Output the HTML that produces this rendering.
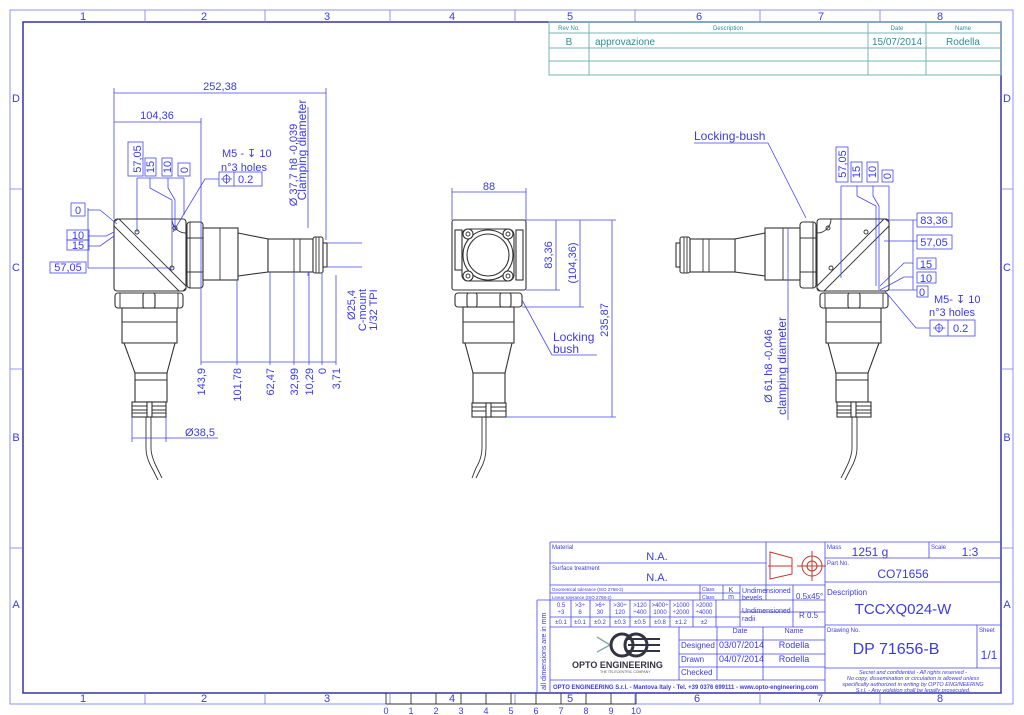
<!DOCTYPE html>
<html><head><meta charset="utf-8"><style>
html,body{margin:0;padding:0;background:#fff}
svg{display:block}
text{font-family:"Liberation Sans",sans-serif;fill:#3a3ae8}
.b{stroke:#4646f0;stroke-width:0.8;fill:none}
.f{stroke:#7777f5;stroke-width:0.8;fill:none}
.m{stroke:#333;stroke-width:1.1;fill:#fff}
.ml{stroke:#333;stroke-width:0.9;fill:none}
.t{stroke:#77b5b5;stroke-width:1;fill:none}
.tt{fill:#2f8f8f}
</style></head><body>
<svg width="1024" height="715" viewBox="0 0 1024 715" xmlns="http://www.w3.org/2000/svg">
<!-- frame -->
<rect x="10" y="10" width="1003" height="694" class="f"/>
<rect x="23" y="22" width="978" height="671" style="stroke:#3333aa;stroke-width:1.5;fill:none"/>
<g class="f">
<path d="M145 10V22M265 10V22M390 10V22M515 10V22M635 10V22M760 10V22M880 10V22"/>
<path d="M145 693V704M265 693V704M390 693V704M515 693V704M635 693V704M760 693V704M880 693V704"/>
<path d="M10 189H23M10 369H23M10 548H23M1001 189H1013M1001 369H1013M1001 548H1013"/>
</g>
<g font-size="11" text-anchor="middle">
<text x="83" y="20">1</text><text x="204" y="20">2</text><text x="327" y="20">3</text><text x="452" y="20">4</text><text x="570" y="20">5</text><text x="699" y="20">6</text><text x="821" y="20">7</text><text x="940" y="20">8</text>
<text x="83" y="702">1</text><text x="204" y="702">2</text><text x="327" y="702">3</text><text x="452" y="702">4</text><text x="570" y="702">5</text><text x="697" y="702">6</text><text x="820" y="702">7</text><text x="940" y="702">8</text>
<text x="16" y="102">D</text><text x="16" y="271">C</text><text x="16" y="441">B</text><text x="16" y="608">A</text>
<text x="1007" y="102">D</text><text x="1007" y="271">C</text><text x="1007" y="441">B</text><text x="1007" y="608">A</text>
</g>
<!-- scale ruler -->
<g class="ml"><path d="M386 704H636M386 693V704M411 693V704M436 693V704M461 693V704M486 693V704M511 693V704M536 693V704M561 693V704M586 693V704M611 693V704M636 693V704"/></g>
<g font-size="9" text-anchor="middle"><text x="386" y="714">0</text><text x="411" y="714">1</text><text x="436" y="714">2</text><text x="461" y="714">3</text><text x="486" y="714">4</text><text x="511" y="714">5</text><text x="536" y="714">6</text><text x="561" y="714">7</text><text x="586" y="714">8</text><text x="611" y="714">9</text><text x="636" y="714">10</text></g>

<!-- revision table -->
<g class="t"><rect x="549" y="22" width="452" height="53"/><path d="M549 33H1001M549 48H1001M549 61H1001M589 22V75M868 22V75M926 22V75"/></g>
<g text-anchor="middle" font-size="6"><text class="tt" x="569" y="30">Rev No.</text><text class="tt" x="728" y="30">Description</text><text class="tt" x="897" y="30">Date</text><text class="tt" x="963" y="30">Name</text></g>
<g font-size="10"><text class="tt" x="569" y="45" text-anchor="middle">B</text><text class="tt" x="595" y="45">approvazione</text><text class="tt" x="897" y="45" text-anchor="middle">15/07/2014</text><text class="tt" x="963" y="45" text-anchor="middle">Rodella</text></g>

<defs>
<g id="part">
 <rect x="114" y="219" width="72" height="72" rx="3" class="m"/>
 <path class="ml" d="M119 219L186 286M114 226L179 291M114 222L118 219M183 291L186 288"/>
 <circle cx="137" cy="232" r="2" class="ml"/><circle cx="175" cy="228" r="2" class="ml"/><circle cx="172" cy="268" r="2" class="ml"/>
 <path class="ml" d="M172 219A14 14 0 0 0 186 233"/>
 <rect x="187" y="222" width="16" height="66" rx="3" class="m"/>
 <path class="ml" d="M187 238H203M187 272H203M190 222V288"/>
 <rect x="203" y="228" width="35" height="52" class="m"/><path class="ml" d="M220 228V280"/>
 <path class="m" d="M238 233L268 239V272L238 276Z"/>
 <rect x="268" y="239" width="45" height="33" class="m"/><path class="ml" d="M294 239V272M300 239V272"/>
 <rect x="313" y="237" width="10" height="36" rx="2" class="m"/><path class="ml" d="M316 237V273M319 237V273"/>
 <rect x="323" y="243" width="4" height="24" class="m"/>
 <rect x="115" y="293" width="68" height="15" rx="3" class="m"/>
 <rect x="143" y="293" width="12" height="15" rx="2" class="m"/>
 <path class="ml" d="M120 293V308M178 293V308"/>
 <rect x="122" y="308" width="55" height="35" class="m"/><path class="ml" d="M122 322H177"/>
 <path class="m" d="M124 343H175L167 373H135Z"/>
 <rect x="135" y="373" width="32" height="29" class="m"/><path class="ml" d="M135 380H167"/>
 <rect x="132" y="402" width="34" height="15" class="m"/>
 <path class="ml" d="M132 406H166M132 410H166M132 413H166"/><rect x="147" y="402" width="5" height="15" class="m"/>
 <path class="ml" d="M146 417V448Q146 458 153 470L158 480M151 417V448Q151 456 157 468L162 478"/>
</g>
</defs>
<use href="#part"/>
<use href="#part" transform="translate(1003,0) scale(-1,1)"/>

<!-- left view dims -->
<g class="b">
 <path d="M114 88V219M326 88V240M201 118V365M114 93H326M114 122H201"/>
 <path d="M237 280V365M270 272V365M294 272V365M309 272V365M322 272V365M336 275V365M201 362H336M327 243H362M327 267H362"/>
 <path d="M308 107V228M308 272V276"/>
 <path d="M132 417V442M166 417V442M132 438H218"/>
 <path d="M137 178H184M137 178V232M150 178V188L172 200V268M168 178V188L175 200V228M184 178V215"/>
 <path d="M219 179H205L173 232"/>
 <rect x="219" y="172" width="43" height="14"/><path d="M234 172V186"/><circle cx="226.5" cy="179" r="3.5"/><path d="M221 179H232M226.5 174V184"/>
 <rect x="128" y="142" width="15" height="34"/><rect x="145" y="158" width="11" height="18"/><rect x="162" y="158" width="10" height="18"/><rect x="178" y="163" width="12" height="13"/>
 <path d="M88 208V268M88 210H100L117 224M88 236H106L114 232M88 246H100L114 236M88 268H172"/>
 <rect x="71" y="203" width="14" height="13"/><rect x="67" y="230" width="22" height="10"/><rect x="67" y="240" width="22" height="10"/><rect x="50" y="262" width="36" height="11"/>
</g>
<g font-size="11" text-anchor="middle">
 <text x="220" y="90">252,38</text><text x="157" y="119">104,36</text>
 <text x="78" y="214">0</text><text x="78" y="239">10</text><text x="78" y="249">15</text><text x="68" y="271">57,05</text>
 <text x="200" y="436">Ø38,5</text>
</g>
<g font-size="11">
 <text x="222" y="157">M5 - ↧ 10</text><text x="221" y="171">n°3 holes</text><text x="238" y="183">0.2</text>
</g>
<g font-size="11" text-anchor="middle">
 <text transform="translate(141,159) rotate(-90)">57,05</text>
 <text transform="translate(154,167) rotate(-90)">15</text>
 <text transform="translate(171,167) rotate(-90)">10</text>
 <text transform="translate(188,170) rotate(-90)">0</text>
 <text transform="translate(297,165) rotate(-90)">Ø 37,7 h8 -0,039</text>
 <text transform="translate(306,150) rotate(-90)" font-size="12">Clamping diameter</text>
 <text transform="translate(355,305) rotate(-90)">Ø25,4</text>
 <text transform="translate(366,310) rotate(-90)">C-mount</text>
 <text transform="translate(377,310) rotate(-90)">1/32 TPI</text>
</g>
<g font-size="11" text-anchor="end">
 <text transform="translate(205,368) rotate(-90)">143,9</text>
 <text transform="translate(241,368) rotate(-90)">101,78</text>
 <text transform="translate(274,368) rotate(-90)">62,47</text>
 <text transform="translate(298,368) rotate(-90)">32,99</text>
 <text transform="translate(313,368) rotate(-90)">10,29</text>
 <text transform="translate(326,368) rotate(-90)">0</text>
 <text transform="translate(340,368) rotate(-90)">3,71</text>
</g>

<!-- ===== MIDDLE VIEW ===== -->
<g>
 <rect x="452" y="220" width="74" height="70" rx="2" class="m"/>
 <rect x="455" y="230" width="7" height="40" class="m"/><rect x="516" y="230" width="7" height="50" class="m"/>
 <rect x="462" y="229" width="52" height="52" rx="6" class="m"/>
 <circle cx="488" cy="255" r="25" class="m"/><circle cx="488" cy="255" r="21" class="m"/>
 <circle cx="468" cy="234" r="5" class="m"/><circle cx="508" cy="234" r="5" class="m"/><circle cx="468" cy="276" r="5" class="m"/><circle cx="508" cy="276" r="5" class="m"/>
 <circle cx="468" cy="234" r="2" class="ml"/><circle cx="508" cy="234" r="2" class="ml"/><circle cx="468" cy="276" r="2" class="ml"/><circle cx="508" cy="276" r="2" class="ml"/>
 <rect x="455" y="293" width="67" height="14" rx="3" class="m"/>
 <rect x="467" y="293" width="10" height="14" rx="2" class="m"/><rect x="500" y="293" width="11" height="14" rx="2" class="m"/>
 <rect x="463" y="307" width="51" height="36" class="m"/><path class="ml" d="M463 322H514"/>
 <path class="m" d="M465 343H512L505 373H473Z"/>
 <rect x="473" y="373" width="32" height="30" class="m"/>
 <rect x="472" y="403" width="34" height="14" class="m"/><path class="ml" d="M472 407H506M472 411H506"/><rect x="486" y="403" width="5" height="14" class="m"/>
 <path class="ml" d="M482 417V448Q482 458 476 468L472 478M486 417V448Q486 460 480 470L476 478"/>
</g>
<g class="b">
 <path d="M452 188V220M526 188V220M452 192H526"/>
 <path d="M526 220H616M526 290H560M522 307H584M506 417H616M556 220V290M580 220V307M612 220V417"/>
 <path d="M522 300L552 355H597"/>
</g>
<g font-size="11" text-anchor="middle">
 <text x="489" y="190">88</text>
 <text transform="translate(552,255) rotate(-90)">83,36</text>
 <text transform="translate(576,263) rotate(-90)">(104,36)</text>
 <text transform="translate(608,320) rotate(-90)">235,87</text>
</g>
<g font-size="12"><text x="553" y="341">Locking</text><text x="553" y="353">bush</text></g>

<!-- ===== RIGHT VIEW DIMS ===== -->
<g class="b">
 <path d="M694 143H768L806 218"/>
 <path d="M841 186H889M841 186V278M857 186V196L876 206V286M873 186V196L879 206V290M889 186V220"/>
 <rect x="836" y="147" width="12" height="35"/><rect x="851" y="162" width="11" height="20"/><rect x="867" y="162" width="11" height="20"/><rect x="882" y="170" width="11" height="12"/>
 <path d="M913 220V290M889 220H917M884 241H917M913 263H904L880 286M913 277H904L880 290M889 290H917"/>
 <rect x="917" y="213" width="35" height="14"/><rect x="917" y="235" width="35" height="14"/><rect x="917" y="258" width="19" height="11"/><rect x="917" y="272" width="19" height="11"/><rect x="917" y="286" width="11" height="11"/>
 <path d="M930 328H916L884 290"/>
 <rect x="930" y="320" width="45" height="16"/><path d="M948 320V336"/><circle cx="939" cy="328" r="3.5"/><path d="M933 328H945M939 323V333"/>
 <path d="M788 228V420"/>
</g>
<g font-size="12"><text x="694" y="140">Locking-bush</text></g>
<g font-size="11" text-anchor="middle">
 <text transform="translate(846,164) rotate(-90)">57,05</text>
 <text transform="translate(860,172) rotate(-90)">15</text>
 <text transform="translate(876,172) rotate(-90)">10</text>
 <text transform="translate(891,176) rotate(-90)">0</text>
 <text x="934" y="224">83,36</text><text x="934" y="246">57,05</text><text x="926" y="268">15</text><text x="926" y="282">10</text><text x="922" y="296">0</text>
 <text transform="translate(772,366) rotate(-90)">Ø 61 h8 -0,046</text>
 <text transform="translate(786,366) rotate(-90)" font-size="12">clamping diameter</text>
</g>
<g font-size="11"><text x="934" y="303">M5- ↧ 10</text><text x="929" y="316">n°3 holes</text><text x="953" y="332">0.2</text></g>

<!-- ===== TITLE BLOCK ===== -->
<g class="b">
 <path d="M550 542H1001M550 542V692M766 542V600M825 542V692"/>
 <path d="M550 563H766M550 585H825M550 593H740M537 600H825M537 600V692"/>
 <path d="M700 585V600M723 585V600M740 585V627M793 585V627M740 612H825"/>
 <path d="M550 617H740M550 627H825"/>
 <path d="M571 600V627M590 600V627M610 600V627M630 600V627M650 600V627M670 600V627M693 600V627M716 600V627"/>
 <path d="M679 627V680M717 627V680M763 627V680M679 640H825M679 654H825M679 667H825M550 680H825"/>
 <path d="M825 558H1001M929 542V558M825 582H1001M825 625H1001M825 668H1001M977 625V668"/>
</g>
<g style="stroke:#c0392b;stroke-width:1;fill:none">
 <path d="M770 552L792 558V574L770 579Z"/><circle cx="812" cy="566" r="10"/><circle cx="812" cy="566" r="5"/><path d="M797 566H826M812 551V581M768 566H792"/>
</g>
<g font-size="6">
 <text x="552" y="549">Material</text><text x="552" y="570">Surface treatment</text>
 <text x="552" y="591" font-size="4.5">Geometrical tolerance (ISO 2768-2)</text><text x="552" y="599" font-size="4.5">Linear tolerance (ISO 2768-2)</text>
 <text x="702" y="591" font-size="5">Class</text><text x="702" y="599" font-size="5">Class</text>
 <text x="827" y="549">Mass</text><text x="931" y="549">Scale</text><text x="827" y="565">Part No.</text>
 <text x="827" y="632">Drawing No.</text><text x="979" y="632">Sheet</text>
</g>
<g font-size="11" text-anchor="middle"><text x="657" y="560">N.A.</text><text x="657" y="581">N.A.</text></g>
<g font-size="7" text-anchor="middle"><text x="731" y="592">K</text><text x="731" y="599">m</text></g>
<g font-size="7"><text x="742" y="593">Undimensioned</text><text x="742" y="600">bevels</text><text x="742" y="613">Undimensioned</text><text x="742" y="621">radii</text></g>
<g font-size="8"><text x="796" y="599">0.5x45°</text><text x="799" y="618">R 0.5</text>
 <text x="827" y="595">Description</text></g>
<g font-size="6" text-anchor="middle">
 <text x="561" y="607">0.5</text><text x="561" y="614">÷3</text><text x="580" y="607">&gt;3÷</text><text x="580" y="614">6</text><text x="600" y="607">&gt;6÷</text><text x="600" y="614">30</text><text x="620" y="607">&gt;30÷</text><text x="620" y="614">120</text><text x="640" y="607">&gt;120</text><text x="640" y="614">÷400</text><text x="660" y="607">&gt;400÷</text><text x="660" y="614">1000</text><text x="681" y="607">&gt;1000</text><text x="681" y="614">÷2000</text><text x="704" y="607">&gt;2000</text><text x="704" y="614">÷4000</text>
 <text x="561" y="624">±0.1</text><text x="580" y="624">±0.1</text><text x="600" y="624">±0.2</text><text x="620" y="624">±0.3</text><text x="640" y="624">±0.5</text><text x="660" y="624">±0.8</text><text x="681" y="624">±1.2</text><text x="704" y="624">±2</text>
</g>
<text transform="translate(546,690) rotate(-90)" font-size="7">all dimensions are in mm</text>
<g font-size="12" text-anchor="middle"><text x="870" y="556">1251 g</text><text x="970" y="556">1:3</text><text x="903" y="578">CO71656</text></g>
<text x="903" y="614" font-size="15" text-anchor="middle">TCCXQ024-W</text>
<text x="896" y="654" font-size="16" text-anchor="middle">DP 71656-B</text>
<text x="989" y="659" font-size="12" text-anchor="middle">1/1</text>
<g font-size="7" text-anchor="middle"><text x="740" y="633">Date</text><text x="794" y="633">Name</text></g>
<g font-size="8"><text x="681" y="648">Designed</text><text x="681" y="662">Drawn</text><text x="681" y="675">Checked</text></g>
<g font-size="9"><text x="719" y="648">03/07/2014</text><text x="719" y="662">04/07/2014</text><text x="794" y="648" text-anchor="middle">Rodella</text><text x="794" y="662" text-anchor="middle">Rodella</text></g>
<g font-size="5.5" font-style="italic" text-anchor="middle"><text x="913" y="674">Secret and confidential - All rights reserved -</text><text x="913" y="680">No copy, dissemination or circulation is allowed unless</text><text x="913" y="686">specifically authorized in writing by OPTO ENGINEERING</text><text x="913" y="692">S.r.l. - Any violation shall be legally prosecuted.</text></g>
<text x="553" y="689" font-size="6" font-weight="bold">OPTO ENGINEERING S.r.l.  -  Mantova Italy -  Tel. +39 0376 699111  -  www.opto-engineering.com</text>
<g>
 <path d="M597 637L610 645L597 652" style="stroke:#8aa;stroke-width:1.5;fill:none"/>
 <circle cx="622" cy="645" r="11" style="stroke:#334;stroke-width:3;fill:none"/>
 <circle cx="636" cy="645" r="11" style="stroke:#334;stroke-width:3;fill:none"/>
 <path d="M628 639H660M628 645H660M628 651H660" style="stroke:#334;stroke-width:2"/>
 <text x="572" y="668" font-size="9" font-weight="bold" style="fill:#334">OPTO ENGINEERING</text>
 <text x="600" y="673" font-size="3.5" style="fill:#556">THE TELECENTRIC COMPANY</text>
</g>
</svg>
</body></html>
